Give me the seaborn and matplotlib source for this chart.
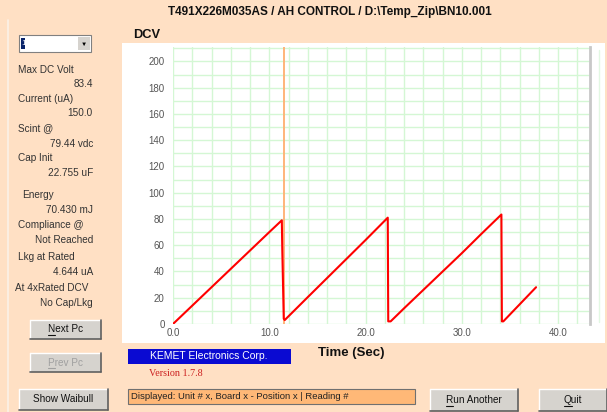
import matplotlib
matplotlib.use("Agg")
import matplotlib.pyplot as plt
import seaborn as sns
import pandas as pd
from matplotlib.patches import Rectangle
from matplotlib.ticker import MultipleLocator, FixedLocator

W, H = 607, 412

# voltage trace (sec, volts)
time_sec = [0, 2, 4, 6, 8, 10, 11.3, 11.35, 11.5, 11.6, 14, 16, 18, 20, 22.3, 22.35, 22.6,
            24, 26, 28, 30, 32, 34.1, 34.15, 34.3, 36, 37.7]
dc_volts = [0, 14, 28, 42, 56, 70, 79, 56, 4, 3, 20.5, 35, 49.5, 64, 81, 2, 2,
            12, 26, 40, 54, 68.5, 83.4, 2, 2, 15, 28]
marker_time = 11.5

x_ticks = [0, 10, 20, 30, 40]
y_ticks = [0, 20, 40, 60, 80, 100, 120, 140, 160, 180, 200]

side_labels = [("Max DC Volt", 70, "left"), ("83.4", 84, "right"),
               ("Current (uA)", 99, "left"), ("150.0", 113, "right"),
               ("Scint @", 128, "left"), ("79.44 vdc", 144, "right"),
               ("Cap Init", 158, "left"), ("22.755 uF", 173, "right"),
               ("Energy", 195, "left2"), ("70.430 mJ", 210, "right"),
               ("Compliance @", 225, "left"), ("Not Reached", 240, "right"),
               ("Lkg at Rated", 257, "left"), ("4.644 uA", 272, "right"),
               ("At 4xRated DCV", 288, "left0"), ("No Cap/Lkg", 303, "right")]

title = "T491X226M035AS / AH CONTROL / D:\\Temp_Zip\\BN10.001"

PEACH = "#FFE0C4"
BTN = "#D6D3CE"


def fx(x): return x / W


def fy(y): return 1 - y / H


def box(fig, x0, y0, x1, y1, color, edge=None, lw=0.8, z=1):
    r = Rectangle((fx(x0), fy(y1)), fx(x1) - fx(x0), fy(y0) - fy(y1), transform=fig.transFigure,
                  facecolor=color, edgecolor=edge if edge else "none", linewidth=lw, zorder=z)
    fig.patches.append(r)


def hline(fig, x0, x1, y, color, lw=1):
    fig.add_artist(plt.Line2D([fx(x0), fx(x1)], [fy(y), fy(y)], color=color, lw=lw, transform=fig.transFigure))


def vline(fig, x, y0, y1, color, lw=1):
    fig.add_artist(plt.Line2D([fx(x), fx(x)], [fy(y0), fy(y1)], color=color, lw=lw, transform=fig.transFigure))


def button(fig, x0, y0, x1, y1, label, color="#111111"):
    box(fig, x0, y0, x1, y1, BTN, z=1)
    # classic 3d look: white top/left, dark bottom/right
    hline(fig, x0, x1, y0, "white")
    vline(fig, x0, y0, y1, "white")
    hline(fig, x0, x1, y1, "#606060", 1.2)
    vline(fig, x1, y0, y1, "#606060", 1.2)
    t = fig.text(fx((x0 + x1) / 2), fy((y0 + y1) / 2), label, ha="center", va="center",
                 fontsize=7.2, color=color)
    return t


def underline_first(fig, t, color):
    # mnemonic underline below the first letter of a button caption
    r = fig.canvas.get_renderer()
    bb = t.get_window_extent(r)
    probe = fig.text(0, 0, t.get_text()[0], fontsize=t.get_fontsize())
    cw = probe.get_window_extent(r).width
    probe.remove()
    y = H - bb.y0 + 0.5
    hline(fig, bb.x0, bb.x0 + cw, y, color, 0.8)


sns.set_style("white")
plt.rcParams["font.family"] = ["Liberation Sans", "DejaVu Sans"]

fig = plt.figure(figsize=(W / 100, H / 100), dpi=100, facecolor=PEACH)

# white chart panel, kept behind the axes
box(fig, 122, 43, 605, 343, "white", z=-5)
vline(fig, 599, 50, 322, "#E2F8E2", 1)
vline(fig, 8, 20, 412, "#FBF1E8", 1.2)

ax = fig.add_axes([fx(173), fy(324), fx(590) - fx(173), fy(47) - fy(324)])
ax.set_zorder(2)
ax.set_facecolor("white")

df = pd.DataFrame({"Time": time_sec, "DCV": dc_volts})
ax.axvline(marker_time, color="#FFB47A", lw=1.4, zorder=2)
sns.lineplot(data=df, x="Time", y="DCV", sort=False, estimator=None, color="red", lw=1.5, ax=ax, zorder=3)

ax.set_xlim(0, 43.3)
ax.set_ylim(0, 211)
ax.xaxis.set_major_locator(FixedLocator(x_ticks))
ax.yaxis.set_major_locator(FixedLocator(y_ticks))
ax.xaxis.set_minor_locator(MultipleLocator(2))
ax.yaxis.set_minor_locator(MultipleLocator(10))
ax.set_xticklabels([f"{t:.1f}" for t in x_ticks])
ax.set_yticklabels([str(v) for v in y_ticks])
ax.grid(which="both", color="#D4F7D4", lw=1.0, zorder=0)
ax.set_axisbelow(True)
ax.tick_params(which="both", length=0, labelsize=7, labelcolor="#555555")
ax.tick_params(axis="x", pad=3)
ax.tick_params(axis="y", pad=6)
ax.set_xlabel("")
ax.set_ylabel("")
for s in ["top", "left", "bottom"]:
    ax.spines[s].set_visible(False)
ax.spines["right"].set_color("#C8C8C8")
ax.spines["right"].set_linewidth(2)

# headings
fig.text(fx(330), fy(12), title, ha="center", va="center", fontsize=8.5, fontweight="bold", color="#111111")
fig.text(fx(133), fy(35), "DCV", ha="left", va="center", fontsize=9.3, fontweight="bold", color="#111111")
fig.text(fx(351), fy(353), "Time (Sec)", ha="center", va="center", fontsize=9.5, fontweight="bold", color="#111111")

# company banner
box(fig, 128, 349, 291, 364, "#0A0AD2", z=1)
fig.text(fx(209), fy(356), "KEMET Electronics Corp.", ha="center", va="center", fontsize=7.5, color="white")
fig.text(fx(149), fy(373), "Version 1.7.8", ha="left", va="center", fontsize=7.3, color="#CC2020",
         family=["Liberation Serif", "DejaVu Serif"])

# left side readouts
for text, y, kind in side_labels:
    if kind == "right":
        fig.text(fx(93), fy(y), text, ha="right", va="center", fontsize=7.2, color="#333333")
    else:
        x = {"left": 18, "left2": 22, "left0": 15}[kind]
        fig.text(fx(x), fy(y), text, ha="left", va="center", fontsize=7.2, color="#333333")

# combo box
box(fig, 19, 35, 91, 52, "white", edge="#808080", lw=0.8)
box(fig, 21, 38, 25, 49, "#0A246A", z=2)
fig.text(fx(21.5), fy(43.5), "1", ha="left", va="center", fontsize=6, color="white", zorder=3)
box(fig, 78, 37, 90, 50, BTN, z=2)
fig.text(fx(84), fy(44), "\u25BC", ha="center", va="center", fontsize=4.5, color="black", zorder=3)

# buttons
b_next = button(fig, 30, 320, 101, 339, "Next Pc")
b_prev = button(fig, 30, 353, 101, 372, "Prev Pc", color="#A0A0A0")
button(fig, 19, 389, 108, 410, "Show Waibull")
b_run = button(fig, 430, 389, 518, 411, "Run Another")
b_quit = button(fig, 539, 389, 607, 411, "Quit")

# status field
box(fig, 128, 389, 415, 404, "#FFB877", edge="#707070", lw=0.8)
fig.text(fx(131), fy(396.5), "Displayed: Unit # x, Board x - Position x | Reading #", ha="left", va="center",
         fontsize=6.8, color="#222222")

for t, c in [(b_next, "#111111"), (b_prev, "#A0A0A0"), (b_run, "#111111"), (b_quit, "#111111")]:
    underline_first(fig, t, c)

fig.savefig("out.png", dpi=100, facecolor=PEACH)
